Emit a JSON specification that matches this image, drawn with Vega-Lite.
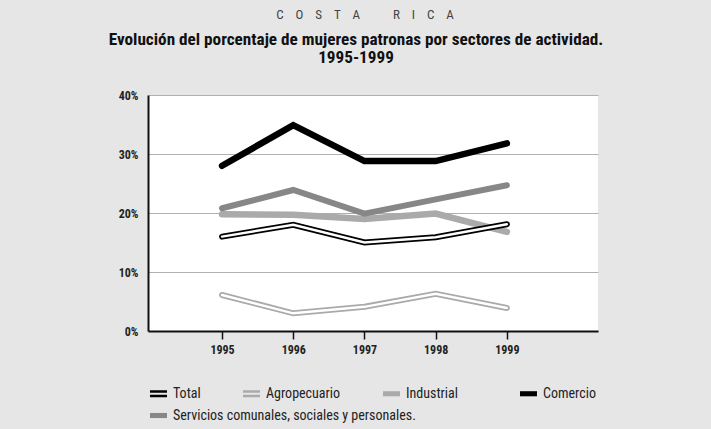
{
  "$schema": "https://vega.github.io/schema/vega-lite/v6.json",
  "width": 450,
  "height": 236,
  "autosize": "none",
  "padding": {"left": 148, "top": 95, "right": 113, "bottom": 98},
  "background": "#e6e6e6",
  "config": {
    "font": "Roboto Condensed, DejaVu Sans Condensed, Open Sans",
    "view": {"fill": "white", "stroke": null}
  },
  "title": {
    "text": "\u200b\u00a0\u00a0\u00a0\u00a0\u00a0\u00a0C\u00a0\u00a0\u00a0\u00a0O\u00a0\u00a0\u00a0\u00a0S\u00a0\u00a0\u00a0\u00a0T\u00a0\u00a0\u00a0\u00a0A\u00a0\u00a0\u00a0\u00a0\u00a0\u00a0\u00a0\u00a0\u00a0\u00a0\u00a0R\u00a0\u00a0\u00a0\u00a0I\u00a0\u00a0\u00a0\u00a0C\u00a0\u00a0\u00a0\u00a0A",
    "subtitle": ["Evolución del porcentaje de mujeres patronas por sectores de actividad.", "1995-1999"],
    "font": "Roboto Condensed, DejaVu Sans Condensed, Open Sans",
    "fontSize": 13,
    "fontWeight": "normal",
    "color": "#444444",
    "subtitleFont": "Roboto Condensed, DejaVu Sans Condensed, Open Sans",
    "subtitleFontSize": 17.2,
    "subtitleFontWeight": "bold",
    "subtitleColor": "#111111",
    "subtitleLineHeight": 17.5,
    "subtitlePadding": 9,
    "anchor": "middle",
    "frame": "group",
    "dx": -17,
    "offset": 23
  },
  "data": {
    "values": [
      {"year": 1995, "series": "Industrial", "value": 19.8},
      {"year": 1996, "series": "Industrial", "value": 19.7},
      {"year": 1997, "series": "Industrial", "value": 19.0},
      {"year": 1998, "series": "Industrial", "value": 19.9},
      {"year": 1999, "series": "Industrial", "value": 16.8},
      {"year": 1995, "series": "Servicios comunales, sociales y personales.", "value": 20.8},
      {"year": 1996, "series": "Servicios comunales, sociales y personales.", "value": 23.9},
      {"year": 1997, "series": "Servicios comunales, sociales y personales.", "value": 19.9},
      {"year": 1998, "series": "Servicios comunales, sociales y personales.", "value": 22.3},
      {"year": 1999, "series": "Servicios comunales, sociales y personales.", "value": 24.7},
      {"year": 1995, "series": "Comercio", "value": 28.0},
      {"year": 1996, "series": "Comercio", "value": 34.9},
      {"year": 1997, "series": "Comercio", "value": 28.8},
      {"year": 1998, "series": "Comercio", "value": 28.8},
      {"year": 1999, "series": "Comercio", "value": 31.8},
      {"year": 1995, "series": "Agropecuario", "value": 6.1},
      {"year": 1996, "series": "Agropecuario", "value": 3.0},
      {"year": 1997, "series": "Agropecuario", "value": 4.1},
      {"year": 1998, "series": "Agropecuario", "value": 6.3},
      {"year": 1999, "series": "Agropecuario", "value": 3.9},
      {"year": 1995, "series": "Total", "value": 16.0},
      {"year": 1996, "series": "Total", "value": 18.0},
      {"year": 1997, "series": "Total", "value": 15.0},
      {"year": 1998, "series": "Total", "value": 15.9},
      {"year": 1999, "series": "Total", "value": 18.1}
    ]
  },
  "encoding": {
    "x": {
      "field": "year",
      "type": "quantitative",
      "scale": {"domain": [1993.96, 2000.28], "nice": false, "zero": false},
      "axis": {
        "title": null,
        "values": [1995, 1996, 1997, 1998, 1999],
        "format": "d",
        "grid": false,
        "domainColor": "#111111",
        "domainWidth": 2,
        "tickColor": "#111111",
        "tickWidth": 1.5,
        "tickSize": 8,
        "labelFontWeight": "bold",
        "labelFontSize": 12,
        "labelColor": "#222222",
        "labelPadding": 5
      }
    },
    "y": {
      "field": "value",
      "type": "quantitative",
      "scale": {"domain": [0, 40], "nice": false},
      "axis": {
        "title": null,
        "values": [0, 10, 20, 30, 40],
        "labelExpr": "datum.value + '%'",
        "grid": true,
        "gridColor": "#b0b0b0",
        "gridWidth": 1,
        "ticks": false,
        "domainColor": "#111111",
        "domainWidth": 2,
        "labelFontWeight": "bold",
        "labelFontSize": 12,
        "labelColor": "#222222",
        "labelPadding": 10
      }
    }
  },
  "layer": [
    {
      "transform": [{"filter": "datum.series === 'Industrial' || datum.series === 'Comercio'"}],
      "mark": {"type": "line", "strokeWidth": 6.5, "strokeCap": "round", "strokeJoin": "miter"},
      "encoding": {
        "color": {
          "field": "series",
          "type": "nominal",
          "scale": {
            "domain": ["Total", "Agropecuario", "Industrial", "Comercio"],
            "range": ["#000000", "#aaaaaa", "#aaaaaa", "#000000"]
          },
          "legend": {
            "title": null,
            "orient": "none",
            "legendX": 2,
            "legendY": 290,
            "padding": 0,
            "direction": "horizontal",
            "columns": 4,
            "gridAlign": "each",
            "columnPadding": 42,
            "labelFontSize": 14,
            "labelColor": "#222222",
            "labelLimit": 400,
            "labelOffset": 6,
            "labelExpr": "datum.label === 'Industrial' ? 'Industrial\u00a0\u00a0\u00a0\u00a0\u00a0\u00a0\u200b' : datum.label",
            "symbolSize": 289,
            "encode": {
              "symbols": {
                "update": {
                  "shape": {"signal": "datum.value === 'Total' || datum.value === 'Agropecuario' ? 'M-1,-0.4H1V-0.12H-1Z M-1,0.12H1V0.4H-1Z' : 'M-1,-0.3H1V0.3H-1Z'"},
                  "fill": {"signal": "scale('color', datum.value)"},
                  "stroke": {"value": "transparent"},
                  "strokeWidth": {"value": 0},
                  "opacity": {"value": 1}
                }
              }
            }
          }
        }
      }
    },
    {
      "transform": [{"filter": "datum.series === 'Servicios comunales, sociales y personales.'"}],
      "mark": {"type": "line", "strokeWidth": 6, "strokeCap": "round", "strokeJoin": "miter"},
      "encoding": {
        "stroke": {
          "field": "series",
          "type": "nominal",
          "scale": {"domain": ["Servicios comunales, sociales y personales."], "range": ["#878787"]},
          "legend": {
            "title": null,
            "orient": "none",
            "legendX": 2,
            "legendY": 312,
            "padding": 0,
            "labelFontSize": 14,
            "labelColor": "#222222",
            "labelLimit": 400,
            "labelOffset": 6,
            "symbolSize": 289,
            "encode": {
              "symbols": {
                "update": {
                  "shape": {"value": "M-1,-0.3H1V0.3H-1Z"},
                  "fill": {"value": "#878787"},
                  "stroke": {"value": "transparent"},
                  "strokeWidth": {"value": 0},
                  "opacity": {"value": 1}
                }
              }
            }
          }
        }
      }
    },
    {
      "transform": [{"filter": "datum.series === 'Total' || datum.series === 'Agropecuario'"}],
      "mark": {"type": "line", "strokeWidth": 6, "strokeCap": "round", "strokeJoin": "miter"},
      "encoding": {
        "color": {"field": "series", "type": "nominal"}
      }
    },
    {
      "transform": [{"filter": "datum.series === 'Total' || datum.series === 'Agropecuario'"}],
      "mark": {"type": "line", "strokeWidth": 2.4, "color": "white", "strokeCap": "round", "strokeJoin": "miter"},
      "encoding": {
        "detail": {"field": "series", "type": "nominal"}
      }
    }
  ]
}
